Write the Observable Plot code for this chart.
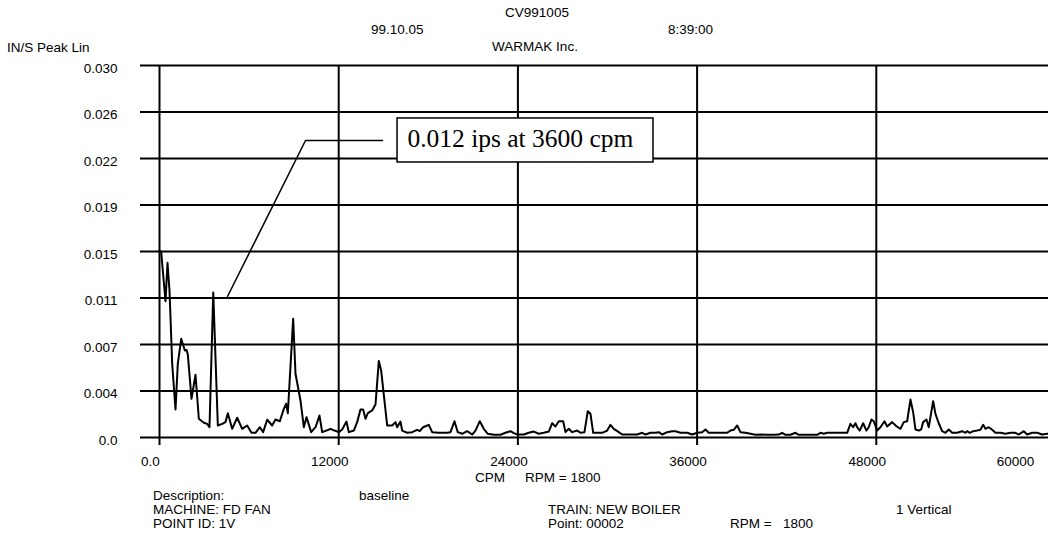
<!DOCTYPE html>
<html><head><meta charset="utf-8">
<script src="https://cdn.jsdelivr.net/npm/d3@7"></script>
<script src="https://cdn.jsdelivr.net/npm/@observablehq/plot@0.6"></script>
<style>
body{margin:0;background:#fff;overflow:hidden;}
#wrap{position:relative;width:1048px;height:539px;font-family:"Liberation Sans",Arial,sans-serif;font-size:13.5px;color:#000;overflow:hidden;}
.t{position:absolute;white-space:nowrap;line-height:1;transform:translateY(-50%);}
.c{transform:translate(-50%,-50%);}
#chart{position:absolute;left:0;top:55px;}
</style></head><body>
<div id="wrap">
  <div class="t c" style="left:537px;top:13px">CV991005</div>
  <div class="t" style="left:371px;top:30px">99.10.05</div>
  <div class="t" style="left:668px;top:30px">8:39:00</div>
  <div class="t c" style="left:535px;top:47px">WARMAK Inc.</div>
  <div class="t" style="left:7px;top:48px">IN/S Peak Lin</div>
  <div id="chart"></div>
  <div class="t" style="left:475px;top:478px">CPM</div>
  <div class="t" style="left:525px;top:478px">RPM = 1800</div>
  <div class="t" style="left:153px;top:496px">Description:</div>
  <div class="t" style="left:359px;top:496px">baseline</div>
  <div class="t" style="left:153px;top:510px">MACHINE: FD FAN</div>
  <div class="t" style="left:153px;top:524px">POINT ID: 1V</div>
  <div class="t" style="left:548px;top:510px">TRAIN: NEW BOILER</div>
  <div class="t" style="left:548px;top:524px">Point: 00002</div>
  <div class="t" style="left:730px;top:524px">RPM =</div>
  <div class="t" style="left:783px;top:524px">1800</div>
  <div class="t" style="left:896px;top:510px">1 Vertical</div>
</div>
<script>
const cpm = [0,114,402,536,670,850,1071,1225,1453,1696,1808,1897,2143,2411,2634,2969,3192,3348,3600,3906,4196,4419,4576,4866,5201,5536,5871,6160,6428,6718,6941,7209,7544,7767,8057,8325,8482,8594,8951,9107,9441,9665,9843,10157,10446,10714,10893,11182,11450,11718,12009,12232,12522,12678,13013,13236,13459,13637,13794,13950,14240,14464,14686,14843,15245,15580,15803,15916,16137,
16250,16585,16920,17255,17430,17657,18032,18260,18702,19264,19485,19753,19974,20268,20603,20938,21159,21447,21715,21983,22385,22833,23168,23503,23724,23992,24394,24729,25064,25398,25733,26068,26295,26516,26737,27032,27186,27407,27635,27970,28190,28458,28679,28860,29041,29309,29644,29978,30199,30420,30755,30983,31425,31987,32322,32543,32877,33212,33434,33662,33996,34331,34552,34887,35335,35670,36005,36340,36560,
36781,37116,37565,38013,38234,38455,38683,38904,39239,39573,39908,40243,40692,41133,41468,41696,41917,42252,42587,42808,43370,44040,44261,44482,44710,45152,45600,46049,46269,46450,46604,46717,46891,47119,47340,47494,47676,47829,48057,48278,48546,48726,49061,49350,49617,49838,50066,50287,50467,50622,50844,51004,51138,51359,51513,51808,51961,52182,52410,52631,52852,53080,53415,53749,53970,54084,54258,54486,54753,54974,55155,55309,55530,55758,55979,56314,56648,56983,57318,57539,57874,58102,58437,58771,59106,59441,59700];
const ips = [0.01508,0.01495,0.01099,0.01409,0.01185,0.00594,0.00226,0.00594,0.00796,0.00702,0.00707,0.00669,0.00312,0.00506,0.00151,0.00119,0.00110,0.00083,0.01169,0.00097,0.00110,0.00124,0.00196,0.00070,0.00159,0.00070,0.00097,0.00038,0.00038,0.00083,0.00043,0.00143,0.00097,0.00145,0.00131,0.00231,0.00272,0.00196,0.00957,0.00514,0.00298,0.00083,0.00164,0.00043,0.00083,0.00177,0.00043,0.00056,0.00070,0.00056,0.00043,0.00065,0.00129,0.00043,0.00056,0.00124,0.00226,0.00226,0.00151,0.00196,0.00218,0.00266,0.00616,0.00540,0.00097,0.00097,0.00124,0.00083,0.00129,
0.00056,0.00038,0.00043,0.00062,0.00051,0.00083,0.00102,0.00043,0.00038,0.00038,0.00043,0.00131,0.00043,0.00030,0.00051,0.00024,0.00056,0.00131,0.00070,0.00030,0.00022,0.00022,0.00038,0.00051,0.00035,0.00024,0.00024,0.00038,0.00048,0.00030,0.00038,0.00048,0.00115,0.00089,0.00131,0.00131,0.00043,0.00070,0.00043,0.00056,0.00038,0.00043,0.00212,0.00191,0.00038,0.00038,0.00038,0.00056,0.00102,0.00070,0.00043,0.00024,0.00024,0.00024,0.00038,0.00024,0.00038,0.00038,0.00043,0.00024,0.00043,0.00051,0.00051,0.00038,0.00038,0.00024,0.00038,0.00043,0.00065,
0.00038,0.00038,0.00038,0.00038,0.00056,0.00062,0.00097,0.00043,0.00038,0.00030,0.00022,0.00024,0.00022,0.00022,0.00024,0.00038,0.00022,0.00022,0.00038,0.00022,0.00022,0.00022,0.00038,0.00030,0.00038,0.00038,0.00038,0.00038,0.00110,0.00083,0.00115,0.00083,0.00056,0.00115,0.00056,0.00083,0.00145,0.00131,0.00056,0.00083,0.00131,0.00089,0.00124,0.00091,0.00070,0.00124,0.00131,0.00306,0.00204,0.00065,0.00056,0.00065,0.00124,0.00145,0.00083,0.00293,0.00191,0.00115,0.00051,0.00038,0.00065,0.00038,0.00038,0.00051,0.00038,0.00051,0.00038,0.00051,0.00056,0.00062,0.00102,0.00070,0.00083,0.00062,0.00038,0.00038,0.00030,0.00038,0.00038,0.00024,0.00051,0.00024,0.00038,0.00038,0.00024,0.00030,0.00030];

const xTickValues = [0, 12000, 24000, 36000, 48000, 60000];
const xTickLabels = ["0.0", "12000", "24000", "36000", "48000", "60000"];
const yTickValues = [0, 0.00375, 0.0075, 0.01125, 0.015, 0.01875, 0.0225, 0.02625, 0.03];
const yTickLabels = ["0.0", "0.004", "0.007", "0.011", "0.015", "0.019", "0.022", "0.026", "0.030"];

const noteText = ["0.012 ips at 3600 cpm"];
const noteBox = [{x1: 15940, x2: 33080, y1: 0.02218, y2: 0.02573}];
const noteLabel = [{x: 16600, y: 0.02405}];
const leaderCpm = [4554, 9777, 14930];
const leaderIps = [0.01137, 0.02395, 0.02395];

const spectrum = cpm.map((c, i) => ({cpm: c, ips: ips[i]}));
const leader = leaderCpm.map((c, i) => ({cpm: c, ips: leaderIps[i]}));
const yTicks = yTickValues.map((v, i) => ({v, label: yTickLabels[i]}));
const xTicks = xTickValues.map((v, i) => ({v, label: xTickLabels[i]}));

const chart = Plot.plot({
  width: 1048, height: 415,
  marginLeft: 159, marginRight: -7, marginTop: 10, marginBottom: 33,
  style: {fontFamily: "'Liberation Sans', Arial, sans-serif", fontSize: "13.5px", background: "white", color: "black", overflow: "visible"},
  x: {domain: [0, 60000], axis: null},
  y: {domain: [0, 0.03], axis: null},
  marks: [
    Plot.ruleY(yTickValues, {stroke: "black", strokeWidth: 2, insetLeft: -19}),
    Plot.ruleX(xTickValues, {stroke: "black", strokeWidth: 2, insetBottom: -8}),
    Plot.line(spectrum, {x: "cpm", y: "ips", stroke: "black", strokeWidth: 2}),
    Plot.line(leader, {x: "cpm", y: "ips", stroke: "black", strokeWidth: 1.5}),
    Plot.rect(noteBox, {x1: "x1", x2: "x2", y1: "y1", y2: "y2", fill: "white", stroke: "black", strokeWidth: 1.5}),
    Plot.text(noteLabel, {x: "x", y: "y", text: () => noteText[0], textAnchor: "start", fontFamily: "'Liberation Serif', 'Times New Roman', serif", fontSize: 25.5, fill: "black"}),
    Plot.text(yTicks, {x: 0, y: "v", text: "label", textAnchor: "end", dx: -42, dy: 3, fill: "black"}),
    Plot.text(xTicks.slice(0, 5), {x: "v", y: 0, text: "label", dy: 24, dx: -9, fill: "black"}),
    Plot.text(xTicks.slice(5), {x: "v", y: 0, text: "label", dy: 24, dx: -40, fill: "black"})
  ]
});
document.getElementById("chart").appendChild(chart);
</script>
</body></html>
